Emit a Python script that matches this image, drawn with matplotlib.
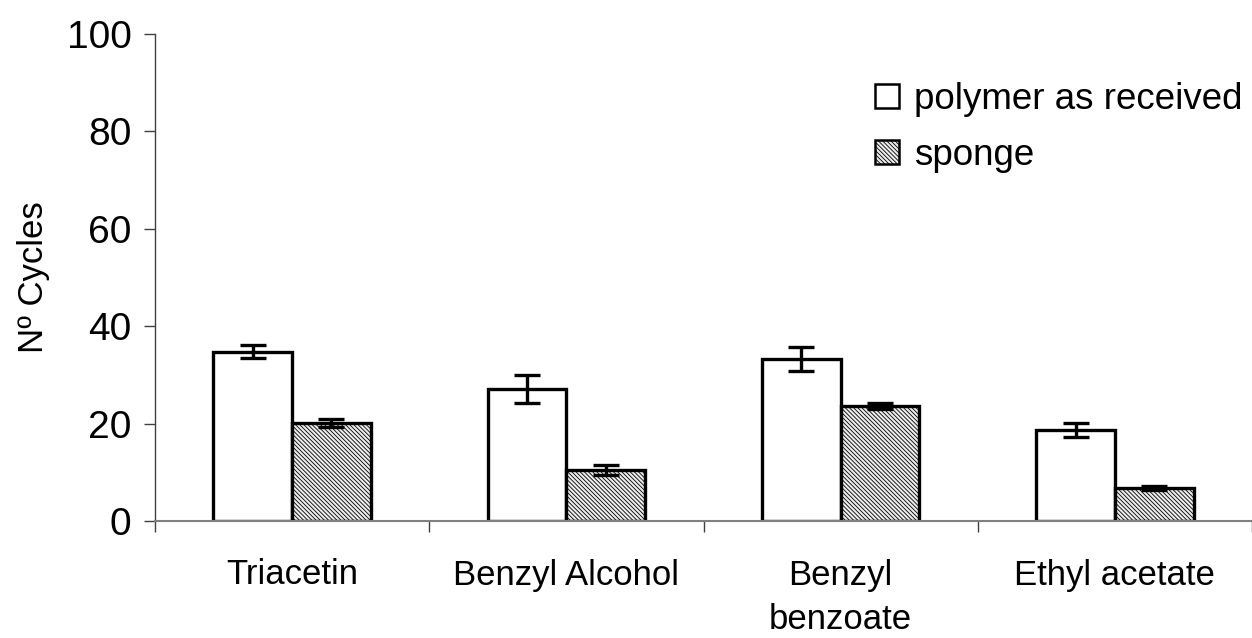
import numpy as np
import matplotlib
matplotlib.use("Agg")
import matplotlib.pyplot as plt
from matplotlib.patches import Patch

plt.rcParams['font.family'] = ['Liberation Sans', 'DejaVu Sans']
plt.rcParams['hatch.linewidth'] = 0.6
plt.rcParams['hatch.color'] = '#8c8c8c'

# data
categories = ["Triacetin", "Benzyl Alcohol", "Benzyl\nbenzoate", "Ethyl acetate"]
received = [34.8, 27.1, 33.3, 18.7]
received_err = [1.4, 2.8, 2.4, 1.4]
sponge = [20.1, 10.5, 23.6, 6.8]
sponge_err = [0.75, 1.0, 0.6, 0.4]
series_names = ["polymer as received", "sponge"]

fig = plt.figure(figsize=(12.52, 6.38), dpi=100)
ax = fig.add_axes([155 / 1252, 1 - 521 / 638, 1 - 155 / 1252, (521 - 34) / 638])

x = np.arange(len(categories))
w = 79 / 275.5
lw = 2.4
hatch = '\\\\\\\\\\\\\\\\'

ax.bar(x - w / 2, received, w, color='white', edgecolor='black', linewidth=lw, zorder=2)
ax.bar(x + w / 2, sponge, w, color='#ececec', edgecolor='black', linewidth=lw,
       hatch=hatch, zorder=2)
ax.errorbar(x - w / 2, received, yerr=received_err, fmt='none', ecolor='black',
            elinewidth=lw, capsize=9.5, capthick=lw, zorder=3)
ax.errorbar(x + w / 2, sponge, yerr=sponge_err, fmt='none', ecolor='black',
            elinewidth=lw, capsize=9.5, capthick=lw, zorder=3)

ax.set_xlim(-0.5, len(categories) - 0.5)
ax.set_ylim(0, 100)
ax.set_yticks(np.arange(0, 101, 20))
ax.set_xticks(np.arange(len(categories) + 1) - 0.5, minor=False)
ax.set_xticklabels([])
ax.set_xticks(x, minor=True)
ax.set_xticklabels(categories, minor=True, fontsize=25, linespacing=1.45)
ax.tick_params(axis='x', which='minor', length=0, pad=27)
ax.tick_params(axis='x', which='major', length=8, width=1, color='#404040', direction='out')
ax.tick_params(axis='y', length=8, width=1, color='#404040', labelsize=28, pad=9)

for s in ['top', 'right']:
    ax.spines[s].set_visible(False)
ax.spines['left'].set_color('#404040')
ax.spines['bottom'].set_color('#808080')
ax.spines['left'].set_linewidth(1)
ax.spines['bottom'].set_linewidth(1.5)

ax.set_ylabel("Nº Cycles", fontsize=25, labelpad=12)

handles = [Patch(facecolor='white', edgecolor='black', linewidth=1.8),
           Patch(facecolor='#ececec', edgecolor='black', linewidth=1.8, hatch=hatch)]
fig.legend(handles, series_names, loc='upper left', bbox_to_anchor=(875 / 1252, 1 - 82 / 638),
           frameon=False, fontsize=26.5, handlelength=0.65, handleheight=0.65,
           handletextpad=0.42, labelspacing=0.57, borderaxespad=0, borderpad=0)

fig.savefig("out.png", dpi=100)
